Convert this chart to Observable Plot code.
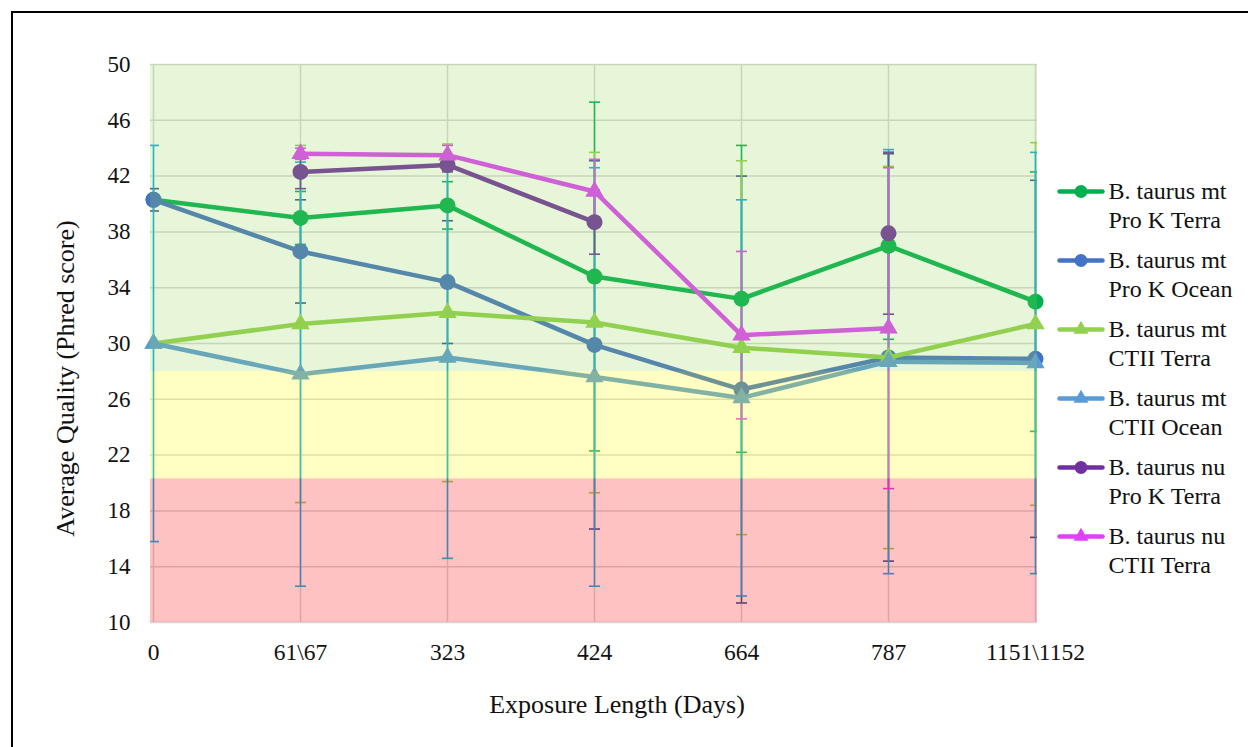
<!DOCTYPE html>
<html><head><meta charset="utf-8">
<script src="https://cdn.jsdelivr.net/npm/d3@7"></script>
<script src="https://cdn.jsdelivr.net/npm/@observablehq/plot@0.6"></script>
<style>
html,body{margin:0;padding:0;background:#fff;overflow:hidden;width:1248px;height:747px;}
#frame{position:absolute;left:11px;top:11px;width:1400px;height:900px;border:2px solid #000;box-sizing:border-box;}
#chart{position:absolute;left:0;top:0;}
#legend{position:absolute;left:1056px;top:160px;}
</style></head><body>
<div id="frame"></div><div id="chart"></div><div id="legend"></div>
<script>
// ---- data ----
const categories = ["0", "61\\67", "323", "424", "664", "787", "1151\\1152"];
const seriesNames = [
  "B. taurus mt Pro K Terra",
  "B. taurus mt Pro K Ocean",
  "B. taurus mt CTII Terra",
  "B. taurus mt CTII Ocean",
  "B. taurus nu Pro K Terra",
  "B. taurus nu CTII Terra"
];
const mtProKTerra      = [40.3, 39.0, 39.9, 34.8, 33.2, 37.0, 33.0];
const mtProKTerraErr   = [null, 1.9, 1.7, 12.5, 11.0, 6.7, 9.3];
const mtProKOcean      = [40.3, 36.6, 34.4, 29.9, 26.7, 29.0, 28.9];
const mtProKOceanErr   = [0.8, 3.7, 4.4, 13.2, 15.3, 14.6, 12.8];
const mtCTIITerra      = [30.0, 31.4, 32.2, 31.5, 29.7, 29.0, 31.4];
const mtCTIITerraErr   = [null, 12.8, 12.1, 12.2, 13.4, 13.7, 13.0];
const mtCTIIOcean      = [30.0, 27.8, 29.0, 27.6, 26.1, 28.7, 28.6];
const mtCTIIOceanErr   = [14.2, 15.2, 14.4, 15.0, 14.2, 15.2, 15.1];
const nuProKTerra      = [null, 42.3, 42.8, 38.7, null, 37.9, null];
const nuProKTerraErr   = [null, 1.2, 0.5, 2.3, null, 5.8, null];
const nuCTIITerra      = [null, 43.6, 43.5, 40.9, 30.6, 31.1, null];
const nuCTIITerraErr   = [null, 0.4, 0.7, 2.3, 6.0, 11.5, null];
const qualityBandEdges = [10, 20.3, 28, 50];
const yTicks = [10, 14, 18, 22, 26, 30, 34, 38, 42, 46, 50];
const xTitle = "Exposure Length (Days)";
const yTitle = "Average Quality (Phred score)";

// ---- styles ----
const seriesValues = [mtProKTerra, mtProKOcean, mtCTIITerra, mtCTIIOcean, nuProKTerra, nuCTIITerra];
const seriesErrs = [mtProKTerraErr, mtProKOceanErr, mtCTIITerraErr, mtCTIIOceanErr, nuProKTerraErr, nuCTIITerraErr];
const lineColors = ["#00b050", "#4472c4", "#92d050", "#5b9bd5", "#7030a0", "#e040fb"];
const errColors  = ["#00b050", "#2f5597", "#92d050", "#00b0f0", "#7030a0", "#e040fb"];
const symbols    = ["circle", "circle", "triangle", "triangle", "circle", "triangle"];
const bandColors = ["#ff0000", "#ffff00", "#92d050"];
const bandAlpha  = [0.24, 0.23, 0.22];
const FONT = "Liberation Serif, Times New Roman, serif";

const rowsBySeries = seriesNames.map((name, s) =>
  categories.map((c, i) => ({series: name, cat: c, value: seriesValues[s][i], err: seriesErrs[s][i]})));

const capSymbol = {draw(ctx) { ctx.moveTo(-5.5, 0); ctx.lineTo(5.5, 0); }};
const swatchSymbol = {draw(ctx) { ctx.moveTo(-21.5, 0); ctx.lineTo(21.5, 0); }};

const bands = qualityBandEdges.slice(0, -1).map((lo, i) => ({lo, hi: qualityBandEdges[i + 1]}));

const marks = [
  Plot.gridY(yTicks, {stroke: "#d6d6d6", strokeOpacity: 1, strokeWidth: 1.5}),
  Plot.gridX(categories, {stroke: "#d6d6d6", strokeOpacity: 1, strokeWidth: 1.5}),
];
// error bars
rowsBySeries.forEach((rows, s) => {
  const e = rows.filter(d => d.value != null && d.err != null);
  marks.push(Plot.ruleX(e, {x: "cat", y1: d => d.value - d.err, y2: d => d.value + d.err, stroke: errColors[s], strokeWidth: 1.5}));
  marks.push(Plot.dot(e, {x: "cat", y: d => d.value + d.err, symbol: capSymbol, r: 5, fill: "none", stroke: errColors[s], strokeWidth: 1.6, clip: "frame"}));
  marks.push(Plot.dot(e, {x: "cat", y: d => d.value - d.err, symbol: capSymbol, r: 5, fill: "none", stroke: errColors[s], strokeWidth: 1.6, clip: "frame"}));
});
// lines and markers
rowsBySeries.forEach((rows, s) => {
  marks.push(Plot.line(rows, {x: "cat", y: "value", stroke: lineColors[s], strokeWidth: 4.5, strokeLinejoin: "round"}));
  marks.push(Plot.dot(rows.filter(d => d.value != null), {x: "cat", y: "value", symbol: symbols[s], r: symbols[s] === "circle" ? 8 : 6.8, fill: lineColors[s], stroke: "none"}));
});
// translucent quality bands on top
bands.forEach((b, i) => marks.push(Plot.rect([b], {y1: "lo", y2: "hi", fill: bandColors[i], fillOpacity: bandAlpha[i]})));
marks.push(Plot.axisY(yTicks, {tickSize: 0, tickPadding: 20, fontSize: 23, fontFamily: FONT, fill: "#111", label: null}));
marks.push(Plot.axisX(categories, {tickSize: 0, tickPadding: 21, fontSize: 23.5, fontFamily: FONT, fill: "#111", label: null}));
marks.push(Plot.text([yTitle], {frameAnchor: "left", textAnchor: "middle", rotate: -90, dx: -85, dy: 35, fontSize: 26, fontFamily: FONT, fill: "#111"}));
marks.push(Plot.text([xTitle], {frameAnchor: "bottom", textAnchor: "middle", dx: 23, dy: 90, fontSize: 26, fontFamily: FONT, fill: "#111"}));

const chart = Plot.plot({
  width: 1248, height: 747,
  marginLeft: 150, marginRight: 211, marginTop: 64, marginBottom: 125,
  x: {type: "point", domain: categories, padding: 0},
  y: {domain: [10, 50]},
  style: {fontFamily: FONT, fontSize: "22px", background: "transparent", color: "#111", overflow: "visible"},
  marks
});
document.getElementById("chart").appendChild(chart);

// legend, drawn with Plot so it shares the chart's serif text rendering
const legendMarks = [];
seriesNames.forEach((name, s) => {
  const words = name.split(" ");
  const item = [{name, line1: words.slice(0, 3).join(" "), line2: words.slice(3).join(" ")}];
  legendMarks.push(Plot.dot(item, {y: "name", frameAnchor: "left", dx: 24.5, symbol: swatchSymbol, r: 5, fill: "none", stroke: lineColors[s], strokeWidth: 4.5, strokeLinecap: "round"}));
  legendMarks.push(Plot.dot(item, {y: "name", frameAnchor: "left", dx: 24.5, symbol: symbols[s], r: symbols[s] === "circle" ? 6.5 : 5.6, fill: lineColors[s]}));
  legendMarks.push(Plot.text(item, {y: "name", text: "line1", frameAnchor: "left", dx: 52, textAnchor: "start", fontSize: 24, fontFamily: FONT, fill: "#111"}));
  legendMarks.push(Plot.text(item, {y: "name", text: "line2", frameAnchor: "left", dx: 52, dy: 29, textAnchor: "start", fontSize: 24, fontFamily: FONT, fill: "#111"}));
});
const legendPlot = Plot.plot({
  width: 192, height: 430, margin: 0,
  y: {type: "point", domain: seriesNames, range: [29, 29 + 5 * 69.8], padding: 0, axis: null},
  style: {fontFamily: FONT, background: "transparent", overflow: "visible"},
  marks: legendMarks
});
document.getElementById("legend").appendChild(legendPlot);
</script>
</body></html>
